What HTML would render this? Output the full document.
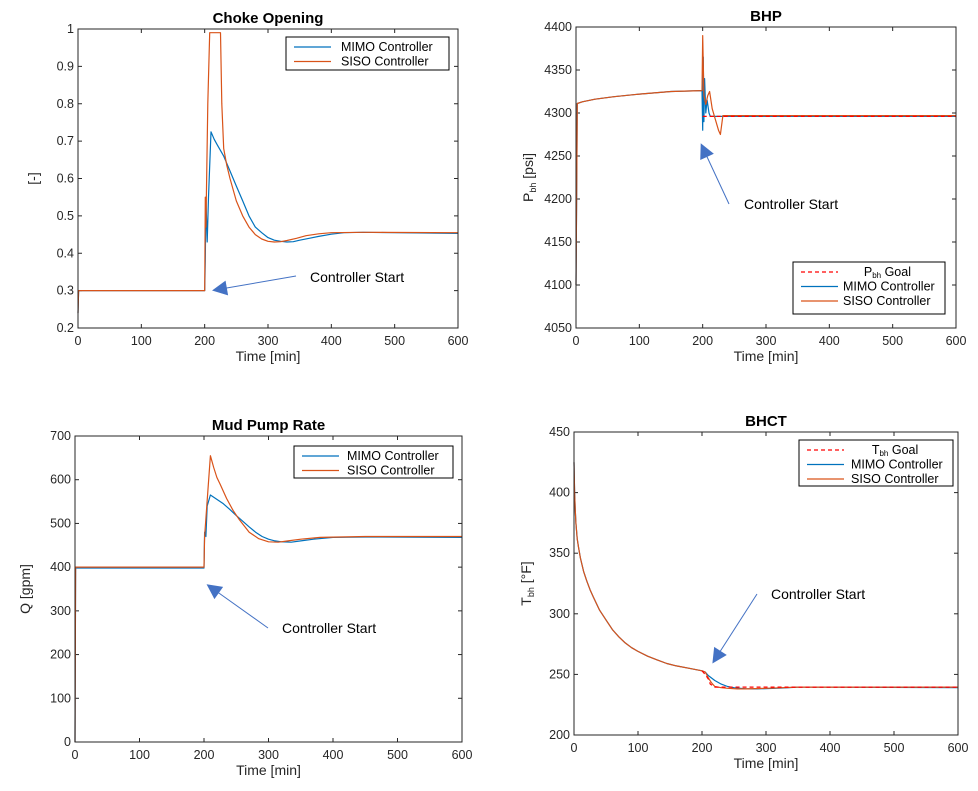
<!DOCTYPE html>
<html><head><meta charset="utf-8">
<style>
html,body{margin:0;padding:0;background:#fff;}
svg{display:block;font-family:"Liberation Sans",Arial,sans-serif;}
</style></head>
<body>
<svg id="fig" width="978" height="791" viewBox="0 0 978 791" xmlns="http://www.w3.org/2000/svg">
<defs>
<marker id="ah" viewBox="0 0 10 10" refX="8" refY="5" markerWidth="17" markerHeight="15" orient="auto-start-reverse" markerUnits="userSpaceOnUse"><path d="M0,0 L10,5 L0,10 z" fill="#4472c4"/></marker>
</defs>
</svg>
<script>
// ---- Choke Opening data ----
const chokeMimoT = [0,1,200,201,202,204,206,210,215,220,230,240,250,260,270,280,290,300,310,320,330,340,350,365,380,400,420,450,500,600];
const chokeMimoV = [0.24,0.3,0.3,0.38,0.55,0.43,0.55,0.725,0.705,0.69,0.66,0.62,0.58,0.54,0.5,0.47,0.455,0.442,0.435,0.432,0.43,0.431,0.435,0.44,0.445,0.451,0.455,0.456,0.455,0.453];
const chokeSisoT = [0,1,200,201,202,205,208,225,227,230,235,240,250,260,270,280,290,300,310,320,330,345,360,380,400,450,600];
const chokeSisoV = [0.24,0.3,0.3,0.55,0.47,0.8,0.99,0.99,0.8,0.68,0.635,0.6,0.54,0.5,0.47,0.45,0.438,0.432,0.43,0.431,0.434,0.44,0.447,0.452,0.455,0.456,0.455];
// ---- BHP data ----
const bhpMimoT = [0,2,10,30,60,100,150,199,200,201,202,203,205,207,210,212,600];
const bhpMimoV = [4100,4311,4313,4316,4319,4322,4325,4326,4280,4365,4290,4340,4300,4315,4300,4296,4296];
const bhpSisoT = [0,2,10,30,60,100,150,199,200,202,205,208,211,215,225,228,232,600];
const bhpSisoV = [4100,4311,4313,4316,4319,4322,4325,4326,4390,4320,4310,4320,4325,4305,4280,4275,4297,4297];
const bhpGoalT = [200,600];
const bhpGoalV = [4296,4296];
// ---- Mud pump data ----
const mudMimoT = [0,1,200,201,203,205,210,220,230,240,250,260,270,280,290,300,310,320,335,350,370,400,450,600];
const mudMimoV = [0,398,398,480,470,540,565,555,545,532,518,505,492,480,470,464,460,458,457,460,464,468,469,468];
const mudSisoT = [0,1,200,201,210,215,220,225,235,245,255,270,285,300,315,330,350,380,450,600];
const mudSisoV = [0,400,400,470,655,628,605,590,557,530,508,480,465,458,457,460,464,468,470,470];
// ---- BHCT data ----
const tMimoT = [0,1,2,3,5,7,10,15,20,25,30,40,50,60,70,80,90,100,115,130,145,160,180,200,205,210,220,230,240,250,260,270,285,300,325,350,400,600];
const tMimoV = [425,400,385,375,362,355,346,335,327,320,314,303,295,287,281,276,272,269,265,262,259,257,255,253,252,249,245,242,240,239,238.5,238,238,238.3,238.8,239.5,239.5,239];
const tSisoT = [0,1,2,3,5,7,10,15,20,25,30,40,50,60,70,80,90,100,115,130,145,160,180,200,205,210,215,220,230,240,255,270,300,350,600];
const tSisoV = [425,400,385,375,362,355,346,335,327,320,314,303,295,287,281,276,272,269,265,262,259,257,255,253,252,247,243,240,239,238.5,238,238,238.5,239.5,239.5];
const tGoalT = [200,205,210,213,216,220,600];
const tGoalV = [253,250,246,242,241,239.5,239.5];
const xTicks = [0,100,200,300,400,500,600];

const NS="http://www.w3.org/2000/svg";
const svg=document.getElementById('fig');
function el(tag,attrs,parent){const e=document.createElementNS(NS,tag);for(const k in attrs)e.setAttribute(k,attrs[k]);(parent||svg).appendChild(e);return e;}
const BLUE="#0072bd", ORANGE="#d95319";

function panel(cfg){
  const g=el('g',{});
  
  
  const sx=v=>cfg.x0+(v-0)/(600-0)*(cfg.x1-cfg.x0);
  const sy=v=>cfg.y1-(v-cfg.ymin)/(cfg.ymax-cfg.ymin)*(cfg.y1-cfg.y0);
  const t=el('text',{x:(cfg.x0+cfg.x1)/2,y:cfg.y0-6,'text-anchor':'middle','font-size':15,'font-weight':'bold',fill:'#000'},g);
  t.textContent=cfg.title;
  
  
  xTicks.forEach(v=>{
    const x=sx(v);
    el('line',{x1:x,x2:x,y1:cfg.y1,y2:cfg.y1-4,stroke:'#262626'},g);
    el('line',{x1:x,x2:x,y1:cfg.y0,y2:cfg.y0+4,stroke:'#262626'},g);
    const tl=el('text',{x:x,y:cfg.y1+17,'text-anchor':'middle','font-size':12.5,fill:'#262626'},g);
    tl.textContent=v;
    
    
  });
  cfg.yTicks.forEach(v=>{
    const y=sy(v);
    el('line',{x1:cfg.x0,x2:cfg.x0+4,y1:y,y2:y,stroke:'#262626'},g);
    el('line',{x1:cfg.x1,x2:cfg.x1-4,y1:y,y2:y,stroke:'#262626'},g);
    const tl=el('text',{x:cfg.x0-4,y:y+4,'text-anchor':'end','font-size':12.5,fill:'#262626'},g);
    tl.textContent=v;
    
    
  });
  const xl=el('text',{x:(cfg.x0+cfg.x1)/2,y:cfg.y1+33,'text-anchor':'middle','font-size':14,fill:'#262626'},g);
  xl.textContent='Time [min]';
  
  
  const yl=el('text',{x:0,y:0,'text-anchor':'middle','font-size':14,fill:'#262626',transform:`translate(${cfg.ylx},${(cfg.y0+cfg.y1)/2}) rotate(-90)`},g);
  yl.innerHTML=cfg.ylabel;
  
  
  cfg.series.forEach(s=>{
    const d=s.t.map((tt,i)=>(i?'L':'M')+sx(tt).toFixed(1)+','+sy(s.v[i]).toFixed(1)).join(' ');
    const p=el('path',{d:d,fill:'none',stroke:s.color,'stroke-width':1.2,'stroke-linejoin':'round','stroke-dasharray':s.dash||'none'},g);
    
    
  });
  el('rect',{x:cfg.x0,y:cfg.y0,width:cfg.x1-cfg.x0,height:cfg.y1-cfg.y0,fill:'none',stroke:'#262626','stroke-width':1},g);
  const L=cfg.legend;
  const lg=el('g',{},g);
  
  
  el('rect',{x:L.x,y:L.y,width:L.w,height:L.h,fill:'#fff',stroke:'#000','stroke-width':1},lg);
  L.items.forEach((it,i)=>{
    const yy=L.y+10+i*14.5;
    el('line',{x1:L.x+8,x2:L.x+45,y1:yy,y2:yy,stroke:it.color,'stroke-width':1.2,'stroke-dasharray':it.dash||'none'},lg);
    const tx=el('text',{x:L.x+L.tx,y:yy+4,'font-size':12.5,fill:'#000'},lg);
    tx.innerHTML=it.label;
    
    
  });
  const A=cfg.ann;
  const ar=el('line',{x1:A.x1,y1:A.y1,x2:A.x2,y2:A.y2,stroke:'#4472c4','stroke-width':1,'marker-end':'url(#ah)'},g);
  
  
  const at=el('text',{x:A.tx,y:A.ty,'font-size':14,fill:'#000'},g);
  at.textContent='Controller Start';
  
  
}

panel({name:'choke-opening',title:'Choke Opening',x0:78,x1:458,y0:29,y1:328,ymin:0.2,ymax:1,
  yTicks:[0.2,0.3,0.4,0.5,0.6,0.7,0.8,0.9,1],ylx:38,ylabel:'[-]',
  series:[{name:'mimo-line',t:chokeMimoT,v:chokeMimoV,color:BLUE},{name:'siso-line',t:chokeSisoT,v:chokeSisoV,color:ORANGE}],
  legend:{x:286,y:37,w:163,h:33,tx:55,items:[{label:'MIMO Controller',color:BLUE},{label:'SISO Controller',color:ORANGE}]},
  ann:{x1:296,y1:276,x2:215,y2:290,tx:310,ty:282}});

panel({name:'bhp',title:'BHP',x0:576,x1:956,y0:27,y1:328,ymin:4050,ymax:4400,
  yTicks:[4050,4100,4150,4200,4250,4300,4350,4400],ylx:533,ylabel:'P<tspan font-size="9" dy="3">bh</tspan><tspan dy="-3"> [psi]</tspan>',
  series:[{name:'mimo-line',t:bhpMimoT,v:bhpMimoV,color:BLUE},{name:'siso-line',t:bhpSisoT,v:bhpSisoV,color:ORANGE},{name:'goal-line',t:bhpGoalT,v:bhpGoalV,color:'#ff0000',dash:'4,3'}],
  legend:{x:793,y:262,w:152,h:52,tx:50,items:[{label:'&#160;&#160;&#160;&#160;&#160;&#160;P<tspan font-size="8" dy="2">bh</tspan><tspan dy="-2"> Goal</tspan>',color:'#ff0000',dash:'4,3'},{label:'MIMO Controller',color:BLUE},{label:'SISO Controller',color:ORANGE}]},
  ann:{x1:729,y1:204,x2:702,y2:146,tx:744,ty:209}});

panel({name:'mud-pump-rate',title:'Mud Pump Rate',x0:75,x1:462,y0:436,y1:742,ymin:0,ymax:700,
  yTicks:[0,100,200,300,400,500,600,700],ylx:30,ylabel:'Q [gpm]',
  series:[{name:'mimo-line',t:mudMimoT,v:mudMimoV,color:BLUE},{name:'siso-line',t:mudSisoT,v:mudSisoV,color:ORANGE}],
  legend:{x:294,y:446,w:159,h:32,tx:53,items:[{label:'MIMO Controller',color:BLUE},{label:'SISO Controller',color:ORANGE}]},
  ann:{x1:268,y1:628,x2:209,y2:586,tx:282,ty:633}});

panel({name:'bhct',title:'BHCT',x0:574,x1:958,y0:432,y1:735,ymin:200,ymax:450,
  yTicks:[200,250,300,350,400,450],ylx:531,ylabel:'T<tspan font-size="9" dy="3">bh</tspan><tspan dy="-3"> [°F]</tspan>',
  series:[{name:'mimo-line',t:tMimoT,v:tMimoV,color:BLUE},{name:'siso-line',t:tSisoT,v:tSisoV,color:ORANGE},{name:'goal-line',t:tGoalT,v:tGoalV,color:'#ff0000',dash:'4,3'}],
  legend:{x:799,y:440,w:154,h:46,tx:52,items:[{label:'&#160;&#160;&#160;&#160;&#160;&#160;T<tspan font-size="8" dy="2">bh</tspan><tspan dy="-2"> Goal</tspan>',color:'#ff0000',dash:'4,3'},{label:'MIMO Controller',color:BLUE},{label:'SISO Controller',color:ORANGE}]},
  ann:{x1:757,y1:594,x2:714,y2:661,tx:771,ty:599}});
</script>
</body></html>
